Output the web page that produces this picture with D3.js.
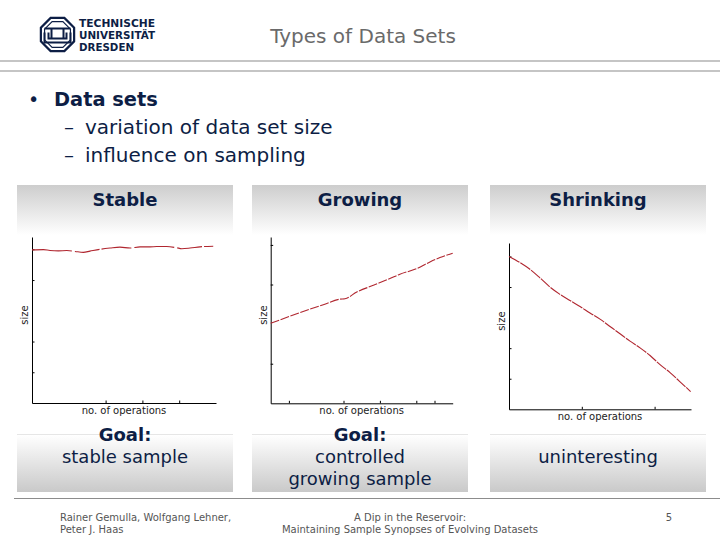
<!DOCTYPE html>
<html>
<head>
<meta charset="utf-8">
<script src="https://cdn.jsdelivr.net/npm/d3@7"></script>
<style>
  body { margin: 0; background: #fff; }
  text { font-family: "DejaVu Sans", Verdana, sans-serif; }
</style>
</head>
<body>
<svg id="slide" width="720" height="540"></svg>
<script>
// Values (x = no. of operations, y = size)
const stableX = [0, 0.62, 0.98, 1.43, 1.89, 2.34, 2.79, 3.15, 3.7, 4.24, 4.78, 5.33, 5.87, 6.41, 6.78, 7.32, 7.86, 8.14, 8.59, 9.13, 9.85];
const stableY = [4.98, 4.99, 4.96, 4.95, 4.96, 4.93, 4.9, 4.94, 5.0, 5.04, 5.07, 5.04, 5.08, 5.08, 5.09, 5.09, 5.05, 5.02, 5.04, 5.08, 5.1];
const growingX = [0, 1.06, 1.98, 2.89, 3.81, 4.08, 4.73, 5.64, 6.55, 7.1, 8.02, 8.75, 9.3, 10];
const growingY = [2.02, 2.2, 2.35, 2.49, 2.63, 2.64, 2.81, 2.98, 3.15, 3.26, 3.4, 3.57, 3.68, 3.79];
const shrinkingX = [0, 0.6, 1.15, 1.7, 2.25, 2.8, 3.35, 3.9, 4.45, 5.0, 5.55, 6.1, 6.65, 7.2, 7.75, 8.3, 8.85, 9.4, 9.98];
const shrinkingY = [5.0, 4.8, 4.58, 4.3, 4.0, 3.76, 3.56, 3.36, 3.15, 2.95, 2.71, 2.47, 2.23, 2.01, 1.76, 1.46, 1.2, 0.9, 0.58];

const panelTitles = ["Stable", "Growing", "Shrinking"];
const goalLines = [["Goal:", "stable sample"], ["Goal:", "controlled", "growing sample"], [null, "uninteresting"]];
const stableYTicks = [1, 2, 4, 5];
const growingYTicks = [1, 3, 4];
const shrinkingYTicks = [1, 2, 4, 5];
const stableXTicks = [4, 6, 8];
const growingXTicks = [1, 4, 6, 8, 9];
const shrinkingXTicks = [4, 8];
const xLabel = "no. of operations";
const yLabel = "size";
const subPoints = ["variation of data set size", "influence on sampling"];

const svg = d3.select("#slide");
const navy = "#0d1e45";

// gradients
const defs = svg.append("defs");
const gTop = defs.append("linearGradient").attr("id", "topGrad")
  .attr("x1", "0%").attr("y1", "0%").attr("x2", "0%").attr("y2", "100%");
gTop.append("stop").attr("offset", "0%").attr("stop-color", "#cdcdcd");
gTop.append("stop").attr("offset", "100%").attr("stop-color", "#ffffff");
const gBot = defs.append("linearGradient").attr("id", "botGrad")
  .attr("x1", "0%").attr("y1", "0%").attr("x2", "0%").attr("y2", "100%");
gBot.append("stop").attr("offset", "0%").attr("stop-color", "#ffffff");
gBot.append("stop").attr("offset", "100%").attr("stop-color", "#c9c9c9");

// header: logo
const logo = svg.append("g").attr("transform", "translate(57.5,34.5)");
const oct = (r) => d3.range(8).map(i => {
  const a = Math.PI / 8 + i * Math.PI / 4;
  return [r * Math.cos(a), r * Math.sin(a)];
});
logo.append("polygon").attr("points", oct(18).join(" "))
  .attr("fill", "none").attr("stroke", navy).attr("stroke-width", 2.2);
logo.append("polygon").attr("points", oct(14).join(" "))
  .attr("fill", "none").attr("stroke", navy).attr("stroke-width", 1.2);
logo.append("path")
  .attr("d", "M-13,-6 H13 M-6,-6 V4 M6,-6 V4 M-13,-2 V8 H13 V-2 M-9,-2 V4 H9 V-2")
  .attr("fill", "none").attr("stroke", navy).attr("stroke-width", 2);
svg.selectAll("text.logo")
  .data(["TECHNISCHE", "UNIVERSITÄT", "DRESDEN"])
  .enter().append("text")
  .attr("class", "logo")
  .attr("x", 79)
  .attr("y", (d, i) => 26.5 + i * 12)
  .attr("font-family", "DejaVu Sans Condensed")
  .attr("font-weight", "bold")
  .attr("font-size", 11)
  .attr("fill", navy)
  .attr("textLength", (d, i) => i === 2 ? 55 : 76)
  .attr("lengthAdjust", "spacingAndGlyphs")
  .text(d => d);

svg.append("text").attr("x", 363).attr("y", 43).attr("text-anchor", "middle")
  .attr("font-size", 20).attr("fill", "#6a6a6a").text("Types of Data Sets");

[61, 71].forEach(y => {
  svg.append("line").attr("x1", 0).attr("x2", 720).attr("y1", y).attr("y2", y)
    .attr("stroke", "#8c8c8c").attr("stroke-width", 1.2);
});

// bullets
svg.append("text").attr("x", 28).attr("y", 106).attr("font-size", 19).attr("fill", navy).text("•");
svg.append("text").attr("x", 54).attr("y", 106).attr("font-size", 19.4).attr("font-weight", "bold")
  .attr("fill", navy).text("Data sets");
const subs = svg.selectAll("g.sub")
  .data(subPoints)
  .enter().append("g")
  .attr("class", "sub")
  .attr("transform", (d, i) => `translate(0,${134 + i * 28})`);
subs.append("text").attr("x", 64).attr("font-size", 20).attr("fill", navy).text("–");
subs.append("text").attr("x", 85).attr("font-size", 20).attr("fill", navy).text(d => d);

// panels
const frames = [
  { box: 17, boxW: 216, l: 32, r: 216, t: 237, b: 403, ymax: 5.4, xs: stableX, ys: stableY, yt: stableYTicks, xt: stableXTicks, dash: "40,3,25,2,30,3" },
  { box: 252, boxW: 216, l: 270.7, r: 452.7, t: 237, b: 403.3, ymax: 4.2, xs: growingX, ys: growingY, yt: growingYTicks, xt: growingXTicks, dash: "9,1.5" },
  { box: 490, boxW: 216, l: 509, r: 691, t: 243, b: 409.3, ymax: 5.44, xs: shrinkingX, ys: shrinkingY, yt: shrinkingYTicks, xt: shrinkingXTicks, dash: "12,1" }
];

frames.forEach((f, k) => {
  const cx = f.box + f.boxW / 2;
  svg.append("rect").attr("x", f.box).attr("y", 185).attr("width", f.boxW).attr("height", 50)
    .attr("fill", "url(#topGrad)");
  svg.append("text").attr("x", cx).attr("y", 205.5).attr("text-anchor", "middle")
    .attr("font-size", 18).attr("font-weight", "bold").attr("fill", navy).text(panelTitles[k]);

  const x = d3.scaleLinear().domain([0, 10]).range([f.l, f.r]);
  const y = d3.scaleLinear().domain([0, f.ymax]).range([f.b, f.t]);

  svg.append("g").attr("transform", `translate(${f.l},0)`)
    .call(d3.axisLeft(y).tickValues(f.yt).tickSize(-2.5).tickSizeOuter(0).tickFormat(""))
    .call(g => g.selectAll("path,line").attr("stroke", "#000").attr("stroke-width", 1));
  svg.append("g").attr("transform", `translate(0,${f.b})`)
    .call(d3.axisBottom(x).tickValues(f.xt).tickSize(-2.5).tickSizeOuter(0).tickFormat(""))
    .call(g => g.selectAll("path,line").attr("stroke", "#000").attr("stroke-width", 1));

  const pts = f.xs.map((v, i) => [v, f.ys[i]]);
  svg.append("path")
    .datum(pts)
    .attr("d", d3.line().curve(d3.curveMonotoneX).x(d => x(d[0])).y(d => y(d[1])))
    .attr("fill", "none")
    .attr("stroke", "#b0262f")
    .attr("stroke-width", 1.1)
    .attr("stroke-dasharray", f.dash);

  svg.append("text").attr("x", (f.l + f.r) / 2).attr("y", f.b + 11).attr("text-anchor", "middle")
    .attr("font-size", 10).attr("fill", "#222").text(xLabel);
  svg.append("text")
    .attr("transform", `translate(${f.l - 4},${(f.t + f.b) / 2 - 5}) rotate(-90)`)
    .attr("text-anchor", "middle").attr("font-size", 10).attr("fill", "#222").text(yLabel);

  // goal boxes
  svg.append("rect").attr("x", f.box).attr("y", 435).attr("width", f.boxW).attr("height", 57)
    .attr("fill", "url(#botGrad)");
  svg.append("line").attr("x1", f.box).attr("x2", f.box + f.boxW).attr("y1", 434.5).attr("y2", 434.5)
    .attr("stroke", "#e6e6e6");
  goalLines[k].forEach((t, i) => {
    if (!t) return;
    svg.append("text").attr("x", cx).attr("y", 441 + i * 22).attr("text-anchor", "middle")
      .attr("font-size", 18).attr("font-weight", i === 0 ? "bold" : "normal")
      .attr("fill", navy).text(t);
  });
});

// footer
svg.append("line").attr("x1", 14).attr("x2", 720).attr("y1", 498.5).attr("y2", 498.5)
  .attr("stroke", "#8c8c8c").attr("stroke-width", 1.2);
const foot = [
  { x: 60, a: "start", lines: ["Rainer Gemulla, Wolfgang Lehner,", "Peter J. Haas"] },
  { x: 410, a: "middle", lines: ["A Dip in the Reservoir:", "Maintaining Sample Synopses of Evolving Datasets"] },
  { x: 672, a: "end", lines: ["5"] }
];
foot.forEach(f => {
  f.lines.forEach((t, i) => {
    svg.append("text").attr("x", f.x).attr("y", 521 + i * 12).attr("text-anchor", f.a)
      .attr("font-size", 10).attr("fill", "#555").text(t);
  });
});
</script>
</body>
</html>
